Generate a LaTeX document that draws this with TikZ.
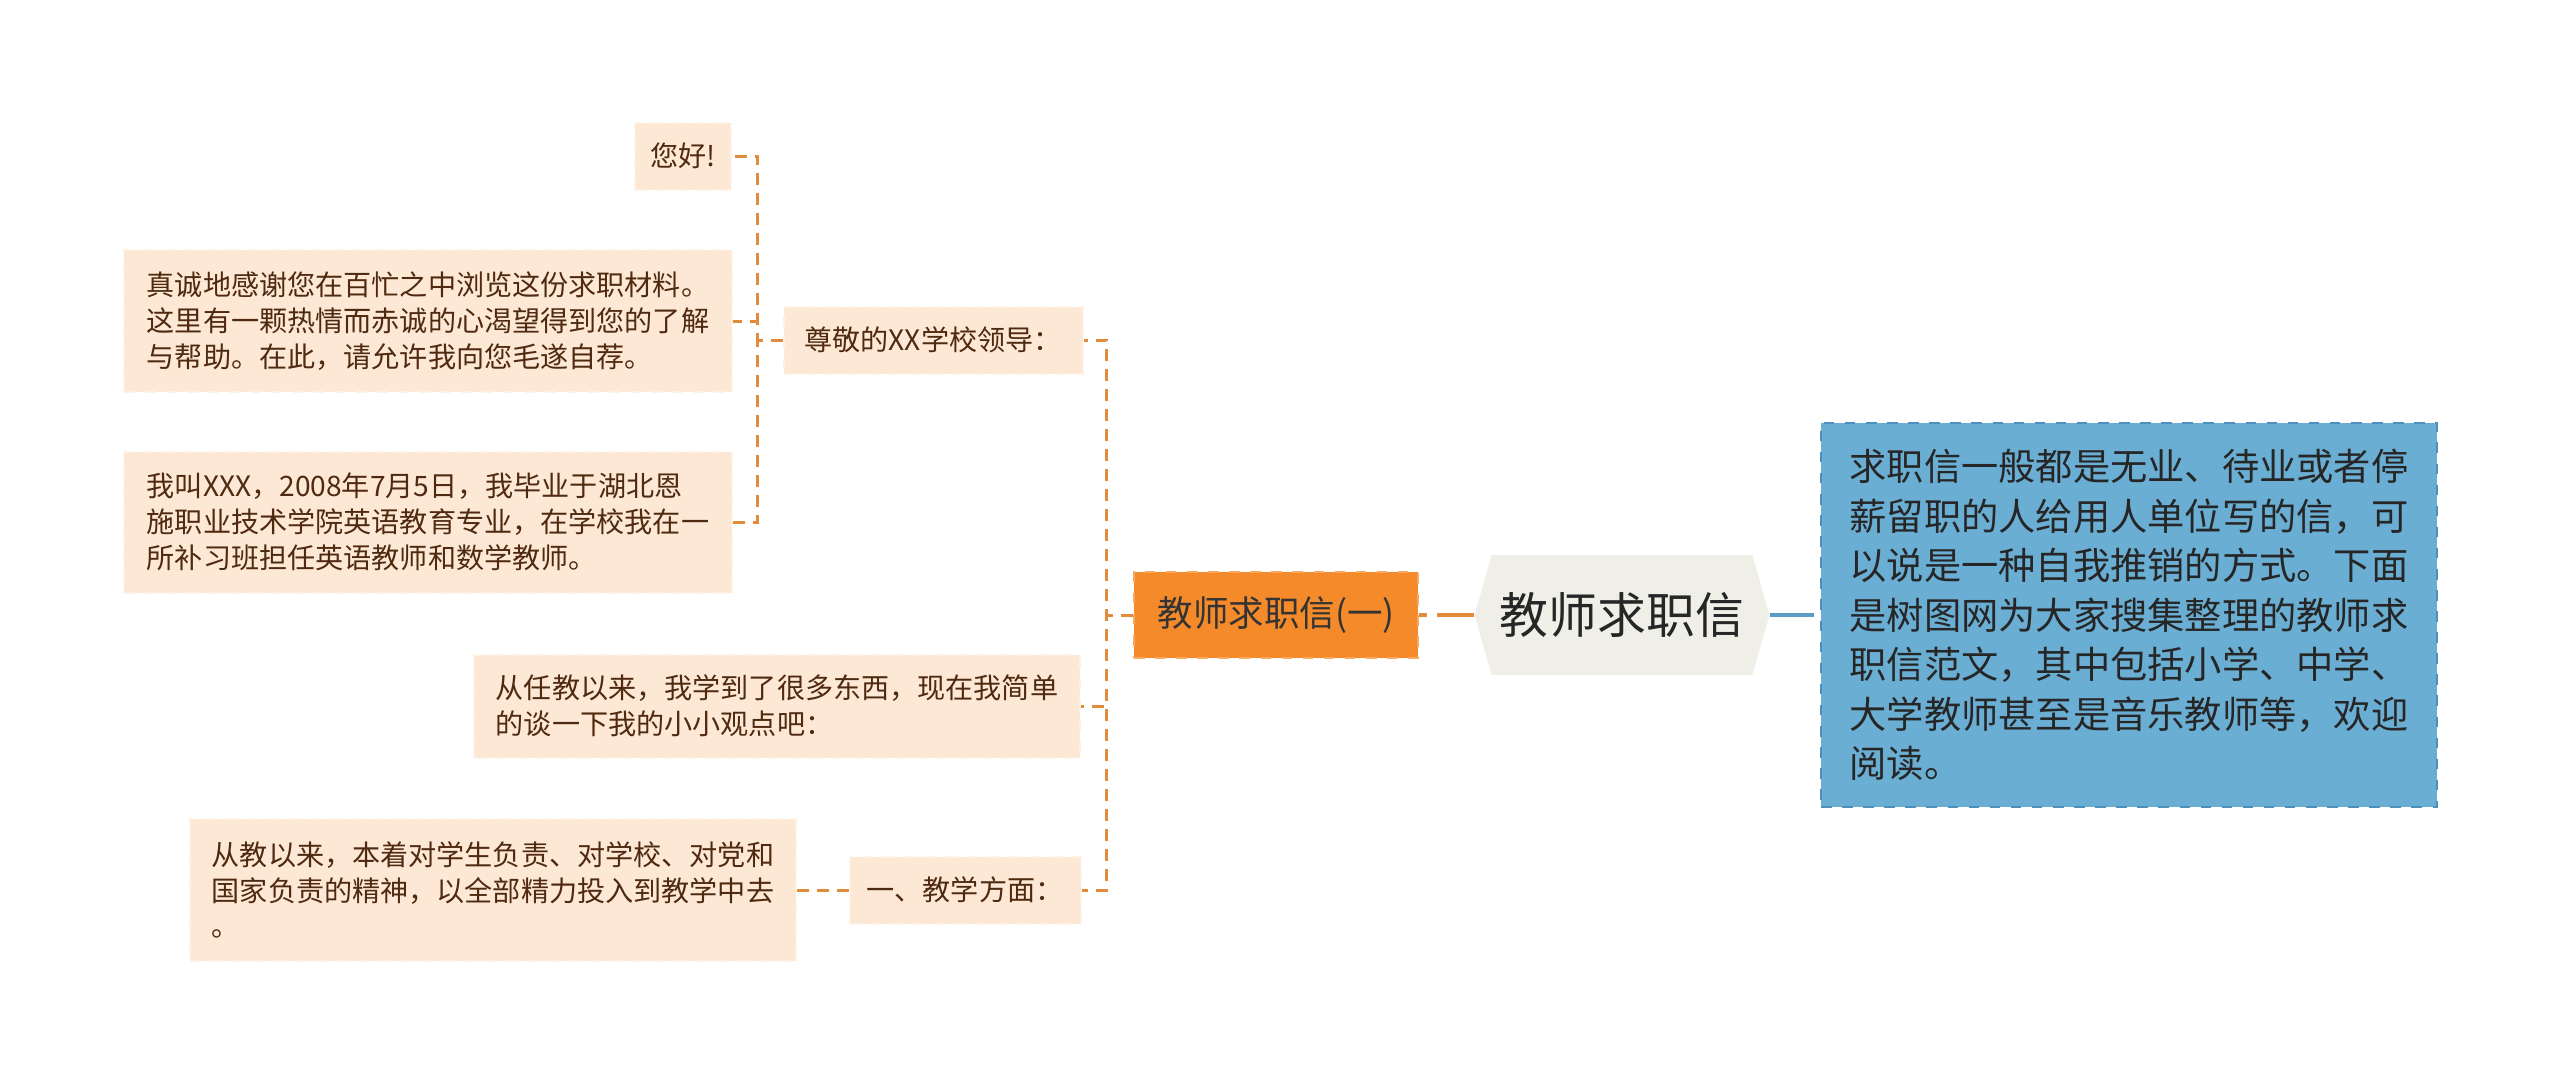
\documentclass[tikz,border=0pt]{standalone}
\usepackage{fontspec}
\setmainfont{Noto Sans CJK SC}
\usetikzlibrary{shapes.symbols}

\definecolor{leafbg}{HTML}{FDE8D6}
\definecolor{leafedge}{HTML}{FEF1E6}
\definecolor{leaftext}{HTML}{4F2A10}
\definecolor{linkorange}{HTML}{E38B3C}
\definecolor{branchbg}{HTML}{F58A2B}
\definecolor{branchedge}{HTML}{F9A960}
\definecolor{rootbg}{HTML}{EFEFE8}
\definecolor{summarybg}{HTML}{6BAED3}
\definecolor{summaryedge}{HTML}{4D90BB}
\definecolor{linkblue}{HTML}{5A9CC4}

\tikzset{
  leaf/.style={fill=leafbg, draw=leafedge, dashed, line width=0.2mm, text=leaftext,
    font=\fontsize{8pt}{10.2pt}\selectfont, align=left, inner sep=0pt},
  branch/.style={fill=branchbg, draw=branchedge, dashed, line width=0.25mm, text=black!80,
    font=\fontsize{10.1pt}{12pt}\selectfont, minimum width=28.4mm, minimum height=8.6mm, inner sep=0pt},
  rootnode/.style={shape=signal, signal to=west and east, signal pointer angle=148,
    fill=rootbg, text=black!85, font=\fontsize{13.9pt}{16pt}\selectfont,
    minimum width=29.5mm, minimum height=12mm, inner sep=0pt},
  summary/.style={fill=summarybg, draw=summaryedge, dashed, line width=0.25mm, text=black!85,
    font=\fontsize{10.6pt}{14.1pt}\selectfont, align=left, minimum width=61.6mm,
    minimum height=38.4mm, inner sep=0pt},
  link/.style={linkorange, line width=0.3mm, dash pattern=on 1.2mm off 0.8mm},
  mainlink/.style={line width=0.45mm, dash pattern=on 3.7mm off 1mm},
}

\begin{document}
\begin{tikzpicture}[x=0.1mm, y=-0.1mm]
  \useasboundingbox (0,0) rectangle (2560,1084);
  % centre and right
  \node[rootnode] (root) at (1622,615) {教师求职信};
  \node[summary] (summ) at (2129,615)
    {求职信一般都是无业、待业或者停\\薪留职的人给用人单位写的信，可\\以说是一种自我推销的方式。下面\\是树图网为大家搜集整理的教师求\\职信范文，其中包括小学、中学、\\大学教师甚至是音乐教师等，欢迎\\阅读。};
  \node[branch] (letter) at (1276,615) {教师求职信(一)};
  % first level on the left
  \node[leaf, minimum width=29.9mm, minimum height=6.7mm] (dear) at (933,340) {尊敬的XX学校领导：};
  \node[leaf, minimum width=60.6mm, minimum height=10.3mm] (learned) at (777,706)
    {从任教以来，我学到了很多东西，现在我简单\\的谈一下我的小小观点吧：};
  \node[leaf, minimum width=23.1mm, minimum height=6.7mm] (teach) at (965,890) {一、教学方面：};
  % second level
  \node[leaf, minimum width=9.6mm, minimum height=6.7mm] (hello) at (683,156) {您好!};
  \node[leaf, minimum width=60.8mm, minimum height=14.2mm] (thanks) at (428,321)
    {真诚地感谢您在百忙之中浏览这份求职材料。\\这里有一颗热情而赤诚的心渴望得到您的了解\\与帮助。在此，请允许我向您毛遂自荐。};
  \node[leaf, minimum width=60.8mm, minimum height=14.1mm] (intro) at (428,522)
    {我叫XXX，2008年7月5日，我毕业于湖北恩\\施职业技术学院英语教育专业，在学校我在一\\所补习班担任英语教师和数学教师。};
  \node[leaf, minimum width=60.6mm, minimum height=14.2mm] (devote) at (493,890)
    {从教以来，本着对学生负责、对学校、对党和\\国家负责的精神，以全部精力投入到教学中去\\。};
  % connectors
  \draw[mainlink, linkorange] (root.west) -- (letter.east);
  \draw[mainlink, linkblue, dash pattern=on 4.4mm off 1mm] (root.east) -- (summ.west);
  \draw[link] (letter.west) -- ++(-26,0) |- (dear.east);
  \draw[link] (letter.west) -- ++(-26,0) |- (learned.east);
  \draw[link] (letter.west) -- ++(-26,0) |- (teach.east);
  \draw[link] (dear.west) -- ++(-25,0) |- (hello.east);
  \draw[link] (dear.west) -- ++(-25,0) |- (thanks.east);
  \draw[link] (dear.west) -- ++(-25,0) |- (intro.east);
  \draw[link] (teach.west) -- (devote.east);
\end{tikzpicture}
\end{document}
